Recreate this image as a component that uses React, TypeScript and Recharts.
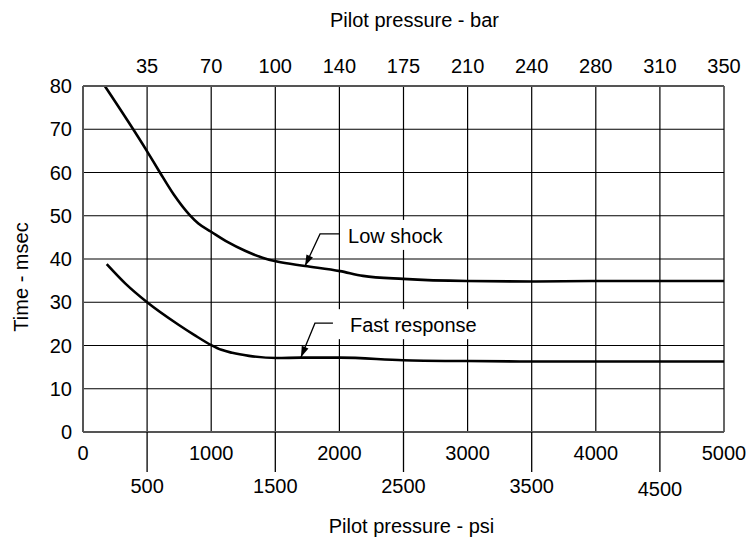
import React from 'react';
import { CartesianGrid, Line, LineChart, ReferenceDot, XAxis, YAxis } from 'recharts';

const FONT = '"Liberation Sans", Arial, Helvetica, sans-serif';

// axis ticks
const psiTicks = [0, 500, 1000, 1500, 2000, 2500, 3000, 3500, 4000, 4500, 5000];
const barTicks = [500, 1000, 1500, 2000, 2500, 3000, 3500, 4000, 4500, 5000];
const barLabels = ['35', '70', '100', '140', '175', '210', '240', '280', '310', '350'];
const timeTicks = [0, 10, 20, 30, 40, 50, 60, 70, 80];

// curves (psi, msec)
const lowShockPsi = [170, 500, 600, 708, 831, 900, 1000, 1130, 1264, 1400, 1513, 1732, 2005, 2184, 2496, 2995, 3500, 4000, 4500, 5000];
const lowShockMs = [80, 64.9, 60, 54.9, 50.2, 48.2, 46.3, 43.9, 41.9, 40.3, 39.4, 38.4, 37.2, 36.1, 35.4, 34.9, 34.8, 34.9, 34.9, 34.9];
const fastPsi = [185, 331, 500, 745, 870, 1000, 1080, 1164, 1295, 1511, 1700, 2005, 2496, 3000, 3500, 4000, 4500, 5000];
const fastMs = [38.8, 34.3, 30, 24.8, 22.4, 20.1, 19.0, 18.3, 17.6, 17.1, 17.2, 17.2, 16.6, 16.4, 16.3, 16.3, 16.3, 16.3];

const lowShockData = lowShockPsi.map((psi, i) => ({ psi, ms: lowShockMs[i] }));
const fastData = fastPsi.map((psi, i) => ({ psi, ms: fastMs[i] }));

const PsiTick = (props: any) => {
  const { x, y, payload } = props;
  const v = payload.value as number;
  if (v % 1000 === 0) {
    return (
      <text x={x} y={y + 28} textAnchor="middle" fontSize={20} fill="#000">
        {v}
      </text>
    );
  }
  return (
    <g>
      <line x1={x} x2={x} y1={y} y2={y + 40} stroke="#000" strokeWidth={1.3} />
      <text x={x} y={y + (v === 4500 ? 64 : 61)} textAnchor="middle" fontSize={20} fill="#000">
        {v}
      </text>
    </g>
  );
};

const BarTick = (props: any) => {
  const { x, y, payload } = props;
  const label = barLabels[barTicks.indexOf(payload.value)] ?? '';
  return (
    <text x={x} y={y - 13} textAnchor="middle" fontSize={20} fill="#000">
      {label}
    </text>
  );
};

const Callout = (props: any) => {
  const { cx, cy, text, dx, dy, run, textDx, boxW } = props;
  if (cx == null || cy == null) return null;
  const ex = cx + dx;
  const ey = cy + dy;
  const len = Math.hypot(dx, dy);
  const ux = dx / len;
  const uy = dy / len;
  const bx = cx + ux * 11;
  const by = cy + uy * 11;
  const nx = -uy * 3.6;
  const ny = ux * 3.6;
  return (
    <g>
      <rect x={ex + run + 3} y={ey - 14} width={boxW} height={30} fill="#fff" />
      <path d={`M${cx},${cy} L${ex},${ey} L${ex + run},${ey}`} fill="none" stroke="#000" strokeWidth={1.3} />
      <polygon points={`${cx},${cy} ${bx + nx},${by + ny} ${bx - nx},${by - ny}`} fill="#000" />
      <text x={cx + textDx} y={ey + 9} fontSize={20} fill="#000">
        {text}
      </text>
    </g>
  );
};

export default function App() {
  return (
    <div style={{ position: 'absolute', left: 0, top: 0, fontFamily: FONT, background: '#fff' }}>
      <LineChart width={749} height={538} margin={{ top: 0, right: 25, bottom: 0, left: 0 }}>
        <CartesianGrid xAxisId="psi" stroke="#000" strokeWidth={1.2} />
        <XAxis
          xAxisId="psi"
          dataKey="psi"
          type="number"
          domain={[0, 5000]}
          ticks={psiTicks}
          interval={0}
          height={106}
          tickSize={0}
          tickMargin={0}
          tickLine={false}
          axisLine={{ stroke: '#555', strokeWidth: 2 }}
          tick={PsiTick}
          label={(p: any) => {
            const vb = p.viewBox;
            return (
              <text x={vb.x + vb.width / 2 + 8} y={vb.y + vb.height - 5} textAnchor="middle" fontSize={20} fill="#000">
                Pilot pressure - psi
              </text>
            );
          }}
        />
        <XAxis
          xAxisId="bar"
          dataKey="psi"
          orientation="top"
          type="number"
          domain={[0, 5000]}
          allowDataOverflow
          ticks={barTicks}
          interval={0}
          height={86}
          tickSize={0}
          tickMargin={0}
          tickLine={false}
          axisLine={{ stroke: '#555', strokeWidth: 2 }}
          tick={BarTick}
          label={(p: any) => {
            const vb = p.viewBox;
            return (
              <text x={vb.x + vb.width / 2 + 11} y={27} textAnchor="middle" fontSize={20} fill="#000">
                Pilot pressure - bar
              </text>
            );
          }}
        />
        <YAxis
          type="number"
          domain={[0, 80]}
          ticks={timeTicks}
          interval={0}
          width={83}
          tickSize={6}
          tickMargin={5}
          tickLine={false}
          axisLine={{ stroke: '#555', strokeWidth: 2 }}
          tick={{ fill: '#000', fontSize: 20 }}
          label={(p: any) => {
            const vb = p.viewBox;
            const tx = 21;
            const ty = vb.y + 191;
            return (
              <text x={tx} y={ty} transform={`rotate(-90, ${tx}, ${ty})`} textAnchor="middle" dy={7} fontSize={20} fill="#000">
                Time - msec
              </text>
            );
          }}
        />
        {/* invisible copy so the top (bar) axis gets a domain and draws its ticks */}
        <Line
          xAxisId="bar"
          data={lowShockData}
          dataKey="ms"
          stroke="none"
          dot={false}
          activeDot={false}
          legendType="none"
          isAnimationActive={false}
        />
        <Line
          xAxisId="psi"
          data={lowShockData}
          dataKey="ms"
          type="monotone"
          stroke="#000"
          strokeWidth={2.6}
          dot={false}
          isAnimationActive={false}
        />
        <Line
          xAxisId="psi"
          data={fastData}
          dataKey="ms"
          type="monotone"
          stroke="#000"
          strokeWidth={2.6}
          dot={false}
          isAnimationActive={false}
        />
        <ReferenceDot
          xAxisId="psi"
          x={1732}
          y={38.4}
          shape={(p: any) => <Callout {...p} text="Low shock" dx={15} dy={-32} run={20} textDx={43} boxW={115} />}
        />
        <ReferenceDot
          xAxisId="psi"
          x={1700}
          y={17.3}
          shape={(p: any) => <Callout {...p} text="Fast response" dx={14} dy={-34} run={18} textDx={49} boxW={152} />}
        />
      </LineChart>
    </div>
  );
}
